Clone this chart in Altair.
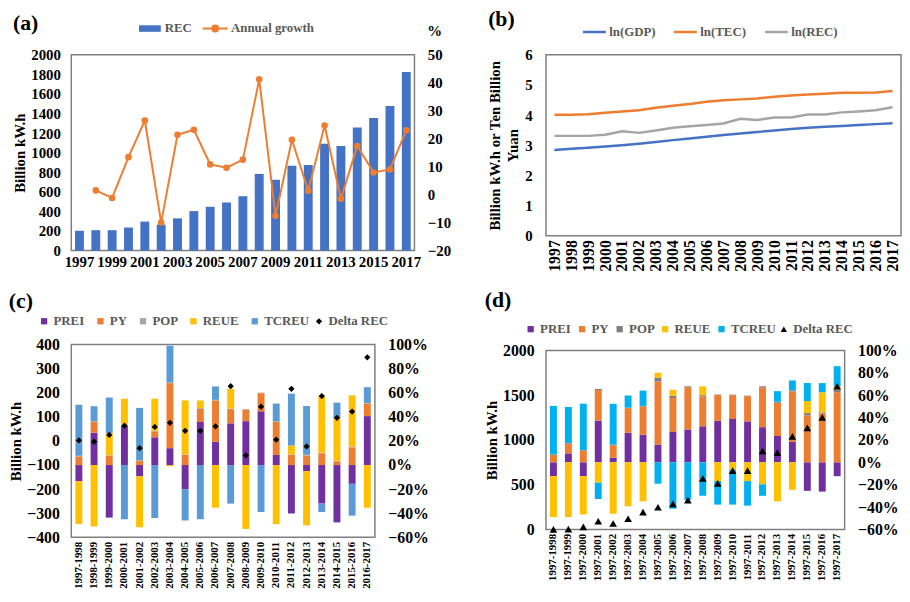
import altair as alt
import pandas as pd

FONT = "Liberation Serif"
BLUE = "#4472C4"
ORANGE = "#ED7D31"
GRAY = "#A5A5A5"
PURPLE = "#7030A0"
YELLOW = "#FFC000"
LBLUE = "#5B9BD5"
CYAN = "#00B0F0"

# ---------------- Panel (a) ----------------
years = [str(y) for y in range(1997, 2018)]
year_ticks_a = years[::2]
rec = [202, 208, 208, 235, 296, 265, 329, 403, 447, 491, 555, 783, 723, 867, 874,
       1092, 1069, 1257, 1355, 1476, 1825]
growth = [None, 1.5, -1.2, 13.4, 26.5, -10.0, 21.4, 23.2, 10.8, 9.6, 12.5, 41.2,
          -7.6, 19.6, 1.4, 24.7, -1.5, 17.4, 7.9, 9.0, 23.0]

# ---------------- Panel (b) ----------------
ln_gdp = [2.84, 2.88, 2.92, 2.96, 3.00, 3.05, 3.11, 3.17, 3.22, 3.28, 3.34, 3.39,
          3.44, 3.49, 3.54, 3.58, 3.61, 3.64, 3.67, 3.70, 3.73]
ln_tec = [4.01, 4.01, 4.03, 4.08, 4.12, 4.16, 4.24, 4.31, 4.37, 4.44, 4.49, 4.52,
          4.55, 4.61, 4.65, 4.68, 4.71, 4.74, 4.74, 4.75, 4.80]
ln_rec = [3.31, 3.31, 3.31, 3.35, 3.46, 3.41, 3.49, 3.58, 3.63, 3.67, 3.72, 3.88,
          3.84, 3.92, 3.92, 4.02, 4.02, 4.09, 4.12, 4.16, 4.26]
series_b = ["ln(GDP)", "ln(TEC)", "ln(REC)"]

# ---------------- Panel (c) (percent contributions, annual) ----------------
components = ["PREI", "PY", "POP", "REUE", "TCREU"]
periods_c = [f"{y}-{y + 1}" for y in range(1997, 2017)]
prei_c = [-13.4, 26.8, -43.6, 32.6, -9.4, 23.0, 14.0, -20.0, 35.8, 19.4, 34.6, 36.4,
          44.6, 8.4, -40.2, -5.0, -32.0, -47.6, -15.6, 40.6]
py_c = [7.2, 9.0, 7.6, 0.5, 3.6, 5.0, 54.0, 8.4, 11.0, 34.2, 11.8, 9.5, 15.0, 27.4,
        8.4, 8.0, 9.8, 3.0, 14.6, 10.4]
pop_c = [0.5] * 20
reue_c = [-35.6, -51.0, 18.4, 21.4, -42.2, 26.5, -1.0, 44.7, 6.3, -35.4, 16.3, -53.0,
          0.0, -49.0, 7.3, -45.0, 46.9, 35.1, 42.7, -35.4]
tcreu_c = [42.3, 12.5, 29.5, -45.0, 43.3, -44.0, 30.5, -26.0, -45.0, 11.1, -32.0, 0.0,
           -39.0, 14.7, 43.0, 40.5, -7.0, 13.2, -26.4, 13.1]
delta_c = [2, -3, 25, 63, -30, 58, 75, 42, 42, 60, 227, -60, 142, 5, 216, -23, 186,
           96, 122, 347]

# ---------------- Panel (d) (percent contributions, cumulative) ----------------
periods_d = [f"1997-{y}" for y in range(1998, 2018)]
prei_d = [-12.4, 8.0, -12.4, 37.2, 4.2, 26.4, 24.6, 15.9, 27.0, 29.4, 32.2, 37.2,
          38.7, 36.6, 31.4, 23.5, 18.2, -25.5, -26.2, -12.4]
py_d = [6.6, 8.8, 10.5, 27.4, 11.1, 22.0, 25.3, 56.3, 30.6, 37.6, 26.8, 22.9, 21.3,
        22.5, 35.6, 29.7, 45.2, 42.0, 43.6, 62.6]
pop_d = [0.5, 0.5, 0.5, 1.0, 0.5, 0.5, 0.5, 3.5, 2.0, 1.0, 1.0, 0.5, 0.5, 0.5, 1.0,
         1.0, 1.0, 2.0, 1.0, 2.6]
reue_d = [-36.5, -48.9, -34.2, -18.2, -46.0, -39.3, -34.9, 4.4, 5.3, 0.0, 7.9, -16.8,
          -6.7, -16.8, -19.7, -34.9, -24.6, 10.8, 18.0, 2.6]
tcreu_d = [43.3, 32.2, 41.4, -14.6, 36.5, 10.8, 13.7, -19.1, -41.6, -33.6, -29.9,
           -21.0, -31.1, -21.9, -10.2, 9.4, 8.8, 16.1, 8.2, 18.1]
delta_d = [0, 3, 29, 91, 66, 120, 193, 248, 285, 328, 569, 515, 657, 657, 876, 858,
           1040, 1135, 1252, 1600]

# ---------------- common styling ----------------
def ax(**kw):
    base = dict(labelFont=FONT, labelFontWeight="bold", labelColor="black",
                labelFontSize=15, titleFont=FONT, titleFontWeight="bold",
                titleColor="black", titleFontSize=15, ticks=False, domain=False,
                grid=False)
    base.update(kw)
    return alt.Axis(**base)


def leg(**kw):
    base = dict(orient="none", direction="horizontal", title=None, labelFont=FONT,
                labelFontWeight="bold", labelFontSize=13, labelColor="#595959",
                gridAlign="none", labelOffset=3, padding=0)
    base.update(kw)
    return alt.Legend(**base)


def ttl(text, **kw):
    base = dict(text=text, anchor="start", font=FONT, fontWeight="bold", fontSize=22,
                color="black", offset=2)
    base.update(kw)
    return alt.TitleParams(**base)


# ---------------- build (a) ----------------
df_a = pd.DataFrame({"year": years, "REC": rec, "growth": growth})
df_a["sb"] = "REC"
df_a["sl"] = "Annual growth"
x_a = alt.X("year:O", title=None, sort=years,
            axis=ax(values=year_ticks_a, labelAngle=0, labelPadding=4))
bars_a = alt.Chart(df_a).mark_bar(size=9).encode(
    x=x_a,
    y=alt.Y("REC:Q", scale=alt.Scale(domain=[0, 2000], nice=False),
            axis=ax(orient="left", values=list(range(0, 2001, 200)), format="d",
                    title="Billion kW.h", labelPadding=11, titlePadding=3)),
    color=alt.Color("sb:N", scale=alt.Scale(domain=["REC"], range=[BLUE]),
                    legend=leg(symbolType="M-2,-0.6H2V0.6H-2Z", symbolSize=121,
                               labelOffset=8.5, legendX=73, legendY=-33)),
)
line_a = alt.Chart(df_a).mark_line(strokeWidth=2,
                                   point=alt.OverlayMarkDef(filled=True, fill=ORANGE,
                                                            size=22)).encode(
    x=x_a,
    y=alt.Y("growth:Q", scale=alt.Scale(domain=[-20, 50], nice=False),
            axis=ax(orient="right", values=list(range(-20, 51, 10)), title="%",
                    titleAngle=0, titleX=20, titleY=-16, titleAlign="center",
                    labelPadding=13)),
    stroke=alt.Stroke("sl:N", scale=alt.Scale(domain=["Annual growth"], range=[ORANGE]),
                      legend=leg(symbolType="M-2.3,0H2.3M0.55,0A0.55,0.55,0,1,1,-0.55,0A0.55,0.55,0,1,1,0.55,0",
                                 symbolSize=121, symbolStrokeWidth=2, labelOffset=9.5,
                                 symbolFillColor=ORANGE, legendX=139, legendY=-33)),
)
chart_a = alt.layer(bars_a, line_a).resolve_scale(
    y="independent", color="independent", stroke="independent"
).properties(width=347, height=198, title=ttl("(a)", offset=-13))

# ---------------- build (b) ----------------
rows_b = []
for s, vals in zip(series_b, [ln_gdp, ln_tec, ln_rec]):
    for y, v in zip(years, vals):
        rows_b.append({"year": y, "series": s, "value": v})
df_b = pd.DataFrame(rows_b)
chart_b = alt.Chart(df_b).mark_line(strokeWidth=2.5).encode(
    x=alt.X("year:O", title=None, sort=years, scale=alt.Scale(type="point", padding=0.5),
            axis=ax(labelAngle=-90, labelFontSize=16, labelPadding=4)),
    y=alt.Y("value:Q", scale=alt.Scale(domain=[0, 6], nice=False),
            axis=ax(values=list(range(0, 7)), title=["Billion kW.h or Ten Billion", "Yuan"],
                    labelPadding=14, titlePadding=4, titleLineHeight=18)),
    color=alt.Color("series:N", sort=series_b,
                    scale=alt.Scale(domain=series_b, range=[BLUE, ORANGE, GRAY]),
                    legend=leg(symbolType="stroke", symbolStrokeWidth=2.5, symbolSize=529,
                               labelOffset=2, columnPadding=13, legendX=36, legendY=-36)),
).properties(width=359, height=183, title=ttl("(b)", offset=-12))


# ---------------- build (c) and (d) ----------------
def decomposition(periods, arrays, delta, colors, shape, ydom, yvals, title,
                  w, h, lx, ly, sx, msize, toff, cpad):
    rows = []
    for i, p in enumerate(periods):
        for k, (cname, arr) in enumerate(zip(components, arrays)):
            rows.append({"period": p, "comp": cname, "idx": k, "pct": arr[i] / 100.0})
    df = pd.DataFrame(rows)
    dfp = pd.DataFrame({"period": periods, "delta": delta})
    dfp["s"] = "Delta REC"
    xenc = alt.X("period:O", title=None, sort=periods,
                 axis=ax(labelAngle=-90, labelFontSize=11, labelPadding=4))
    bars = alt.Chart(df).mark_bar(size=7).encode(
        x=xenc,
        y=alt.Y("pct:Q", stack="zero", scale=alt.Scale(domain=[-0.6, 1.0], nice=False),
                axis=ax(orient="right", format=".0%",
                        values=[-0.6, -0.4, -0.2, 0, 0.2, 0.4, 0.6, 0.8, 1.0],
                        title=None, labelPadding=13, labelFontSize=16)),
        color=alt.Color("comp:N", sort=components,
                        scale=alt.Scale(domain=components, range=colors),
                        legend=leg(symbolType="square", symbolSize=40, columnPadding=cpad,
                                   legendX=lx, legendY=ly)),
        order=alt.Order("idx:Q", sort="ascending"),
    )
    pts = alt.Chart(dfp).mark_point(filled=True, fill="black", color="black",
                                    size=msize, opacity=1).encode(
        x=xenc,
        y=alt.Y("delta:Q", scale=alt.Scale(domain=ydom, nice=False),
                axis=ax(orient="left", values=yvals, title="Billion kW.h", format="d",
                        labelPadding=12, labelFontSize=16, titlePadding=3)),
        shape=alt.Shape("s:N", scale=alt.Scale(domain=["Delta REC"], range=[shape]),
                        legend=leg(symbolFillColor="black", symbolStrokeColor="black",
                                   symbolSize=40, legendX=sx, legendY=ly)),
    )
    return alt.layer(bars, pts).resolve_scale(
        y="independent", color="independent", shape="independent"
    ).properties(width=w, height=h, title=ttl(title, offset=toff))


chart_c = decomposition(periods_c, [prei_c, py_c, pop_c, reue_c, tcreu_c], delta_c,
                        [PURPLE, ORANGE, GRAY, YELLOW, LBLUE], "diamond",
                        [-400, 400], list(range(-400, 401, 100)), "(c)",
                        307, 195, -34, -30, 244, 40, 2, 9)
chart_d = decomposition(periods_d, [prei_d, py_d, pop_d, reue_d, tcreu_d], delta_d,
                        [PURPLE, ORANGE, "#7F7F7F", YELLOW, CYAN], "triangle-up",
                        [0, 2000], list(range(0, 2001, 500)), "(d)",
                        302, 181, -22, -28, 234, 60, 11, 4)

IND = dict(color="independent", stroke="independent", shape="independent")
col1 = alt.vconcat(chart_a, chart_c, spacing=19).resolve_scale(**IND).resolve_legend(**IND)
col2 = alt.vconcat(chart_b, chart_d, spacing=16).resolve_scale(**IND).resolve_legend(**IND)
chart = alt.hconcat(col1, col2, spacing=32).resolve_scale(**IND).resolve_legend(
    **IND).properties(padding={"top": -4, "left": 0, "right": 0, "bottom": 0}
                      ).configure_view(stroke="#7F7F7F", strokeWidth=1.5)

chart.save("out.html", embed_options={"renderer": "svg", "actions": False})
